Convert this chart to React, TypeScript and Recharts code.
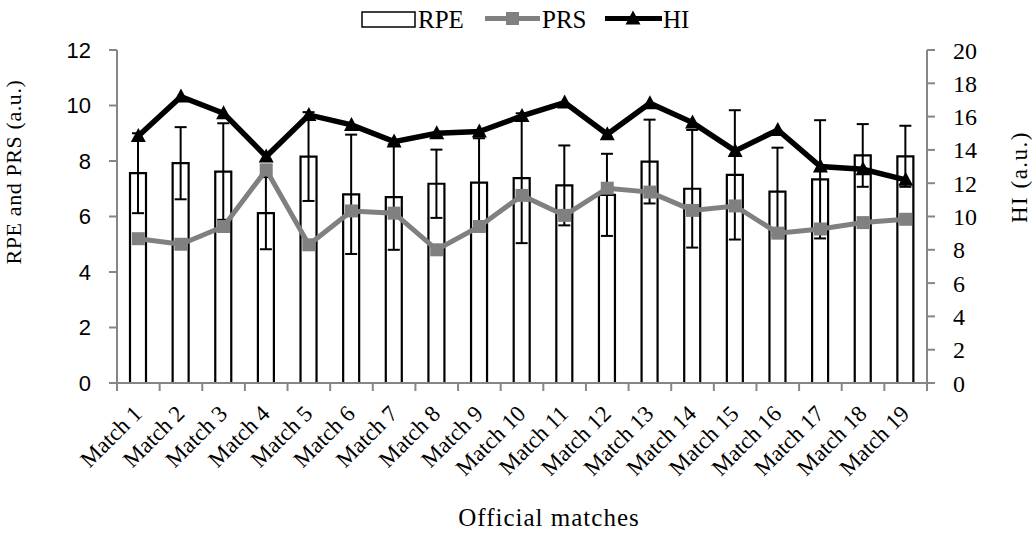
import React from 'react';
import {
  Bar,
  ComposedChart,
  ErrorBar,
  Line,
  XAxis,
  YAxis,
} from 'recharts';

const MATCHES = [
  'Match 1', 'Match 2', 'Match 3', 'Match 4', 'Match 5', 'Match 6', 'Match 7',
  'Match 8', 'Match 9', 'Match 10', 'Match 11', 'Match 12', 'Match 13',
  'Match 14', 'Match 15', 'Match 16', 'Match 17', 'Match 18', 'Match 19',
];
const RPE = [7.56, 7.92, 7.62, 6.12, 8.16, 6.8, 6.7, 7.18, 7.22, 7.38, 7.12, 6.78, 7.98, 7.0, 7.5, 6.9, 7.34, 8.2, 8.17];
const RPE_SD = [1.44, 1.3, 1.74, 1.3, 1.6, 2.15, 1.9, 1.23, 1.6, 2.34, 1.44, 1.48, 1.51, 2.12, 2.33, 1.58, 2.13, 1.13, 1.1];
const PRS = [5.2, 5.0, 5.64, 7.68, 4.98, 6.2, 6.12, 4.8, 5.64, 6.76, 6.04, 7.02, 6.88, 6.22, 6.38, 5.4, 5.55, 5.78, 5.9];
const HI = [14.84, 17.2, 16.2, 13.6, 16.1, 15.5, 14.5, 15.0, 15.1, 16.04, 16.84, 14.94, 16.8, 15.64, 13.94, 15.2, 13.0, 12.84, 12.2];

const LEFT_TICKS = [0, 2, 4, 6, 8, 10, 12];
const RIGHT_TICKS = [0, 2, 4, 6, 8, 10, 12, 14, 16, 18, 20];

const data = MATCHES.map((name, i) => ({
  name,
  rpe: RPE[i],
  rpeSd: RPE_SD[i],
  prs: PRS[i],
  hi: HI[i],
}));

const W = 1034;
const H = 533;
const PLOT_LEFT = 117;
const PLOT_RIGHT = 927;
const AXIS_GREY = '#868686';
const LINE_GREY = '#808080';
const SERIF = '"Liberation Serif", "Times New Roman", serif';
const SANS = '"Liberation Sans", Arial, sans-serif';

// category label, rotated, plus tick marks on the category boundaries
const MatchTick = (props: any) => {
  const { x, y, payload, index } = props;
  const step = (PLOT_RIGHT - PLOT_LEFT) / MATCHES.length;
  const left = x - step / 2;
  return (
    <g>
      <line x1={left} x2={left} y1={y} y2={y + 8} stroke={AXIS_GREY} strokeWidth={2} />
      {index === MATCHES.length - 1 && (
        <line x1={x + step / 2} x2={x + step / 2} y1={y} y2={y + 8} stroke={AXIS_GREY} strokeWidth={2} />
      )}
      <text
        transform={`translate(${x + 5},${y + 32}) rotate(-45)`}
        textAnchor='end'
        fontFamily={SERIF}
        fontSize={23}
        fill='#000'
      >
        {payload.value}
      </text>
    </g>
  );
};

const SquareDot = (p: any) => {
  if (p.cx == null || p.cy == null) return null;
  return <rect key={`sq-${p.index}`} x={p.cx - 6.5} y={p.cy - 6.5} width={13} height={13} fill={LINE_GREY} />;
};

const TriangleDot = (p: any) => {
  if (p.cx == null || p.cy == null) return null;
  return (
    <polygon
      key={`tri-${p.index}`}
      points={`${p.cx},${p.cy - 8} ${p.cx - 7.5},${p.cy + 6} ${p.cx + 7.5},${p.cy + 6}`}
      fill='#000'
    />
  );
};

export default function App() {
  return (
    <div style={{ position: 'absolute', left: 0, top: 0, width: W, height: H, background: '#fff' }}>
      <ComposedChart
        width={W}
        height={H}
        data={data}
        margin={{ top: 50, right: 0, bottom: 0, left: 0 }}
      >
        <XAxis
          dataKey='name'
          xAxisId={0}
          height={150}
          interval={0}
          tickLine={false}
          tickSize={0}
          tickMargin={0}
          axisLine={{ stroke: AXIS_GREY, strokeWidth: 2 }}
          tick={<MatchTick />}
        />
        <YAxis
          yAxisId='left'
          orientation='left'
          width={PLOT_LEFT}
          domain={[0, 12]}
          ticks={LEFT_TICKS}
          tickSize={8}
          tickMargin={18}
          axisLine={{ stroke: AXIS_GREY, strokeWidth: 2 }}
          tickLine={{ stroke: AXIS_GREY, strokeWidth: 2 }}
          tick={{ fontFamily: SANS, fontSize: 22, fill: '#000' }}
        />
        <YAxis
          yAxisId='right'
          orientation='right'
          width={W - PLOT_RIGHT}
          domain={[0, 20]}
          ticks={RIGHT_TICKS}
          tickSize={8}
          tickMargin={18}
          axisLine={{ stroke: AXIS_GREY, strokeWidth: 2 }}
          tickLine={{ stroke: AXIS_GREY, strokeWidth: 2 }}
          tick={{ fontFamily: SERIF, fontSize: 24, fill: '#000', textAnchor: 'start' }}
        />
        <Bar
          dataKey='rpe'
          yAxisId='left'
          barSize={16}
          fill='#fff'
          stroke='#000'
          strokeWidth={2.2}
          isAnimationActive={false}
        >
          <ErrorBar dataKey='rpeSd' direction='y' width={6} stroke='#000' strokeWidth={2} />
        </Bar>
        <Line
          dataKey='prs'
          yAxisId='left'
          stroke={LINE_GREY}
          strokeWidth={5}
          dot={SquareDot}
          activeDot={false}
          isAnimationActive={false}
        />
        <Line
          dataKey='hi'
          yAxisId='right'
          stroke='#000'
          strokeWidth={5.5}
          dot={TriangleDot}
          activeDot={false}
          isAnimationActive={false}
        />
      </ComposedChart>

      <svg
        width={W}
        height={H}
        style={{ position: 'absolute', left: 0, top: 0, pointerEvents: 'none' }}
      >
        {/* legend */}
        <rect x={362} y={12} width={53} height={15} fill='#fff' stroke='#000' strokeWidth={1.5} />
        <text x={418} y={27.5} fontFamily={SERIF} fontSize={25} fill='#000'>RPE</text>
        <line x1={485} x2={540} y1={18.5} y2={18.5} stroke={LINE_GREY} strokeWidth={5} />
        <rect x={506} y={12} width={13} height={13} fill={LINE_GREY} />
        <text x={542} y={27.5} fontFamily={SERIF} fontSize={25} fill='#000'>PRS</text>
        <line x1={605} x2={662} y1={18.5} y2={18.5} stroke='#000' strokeWidth={5} />
        <polygon points='633,10.5 625.5,24.5 640.5,24.5' fill='#000' />
        <text x={663} y={27.5} fontFamily={SERIF} fontSize={25} fill='#000'>HI</text>

        {/* axis titles */}
        <text
          transform='translate(21,172) rotate(-90)'
          textAnchor='middle'
          fontFamily={SERIF}
          fontSize={22}
          letterSpacing={0.6}
          fill='#000'
        >
          RPE and PRS (a.u.)
        </text>
        <text
          transform='translate(1027,177) rotate(-90)'
          textAnchor='middle'
          fontFamily={SERIF}
          fontSize={23}
          letterSpacing={1.5}
          fill='#000'
        >
          HI (a.u.)
        </text>
        <text
          x={549}
          y={526}
          textAnchor='middle'
          fontFamily={SERIF}
          fontSize={25}
          letterSpacing={1}
          fill='#000'
        >
          Official matches
        </text>
      </svg>
    </div>
  );
}
